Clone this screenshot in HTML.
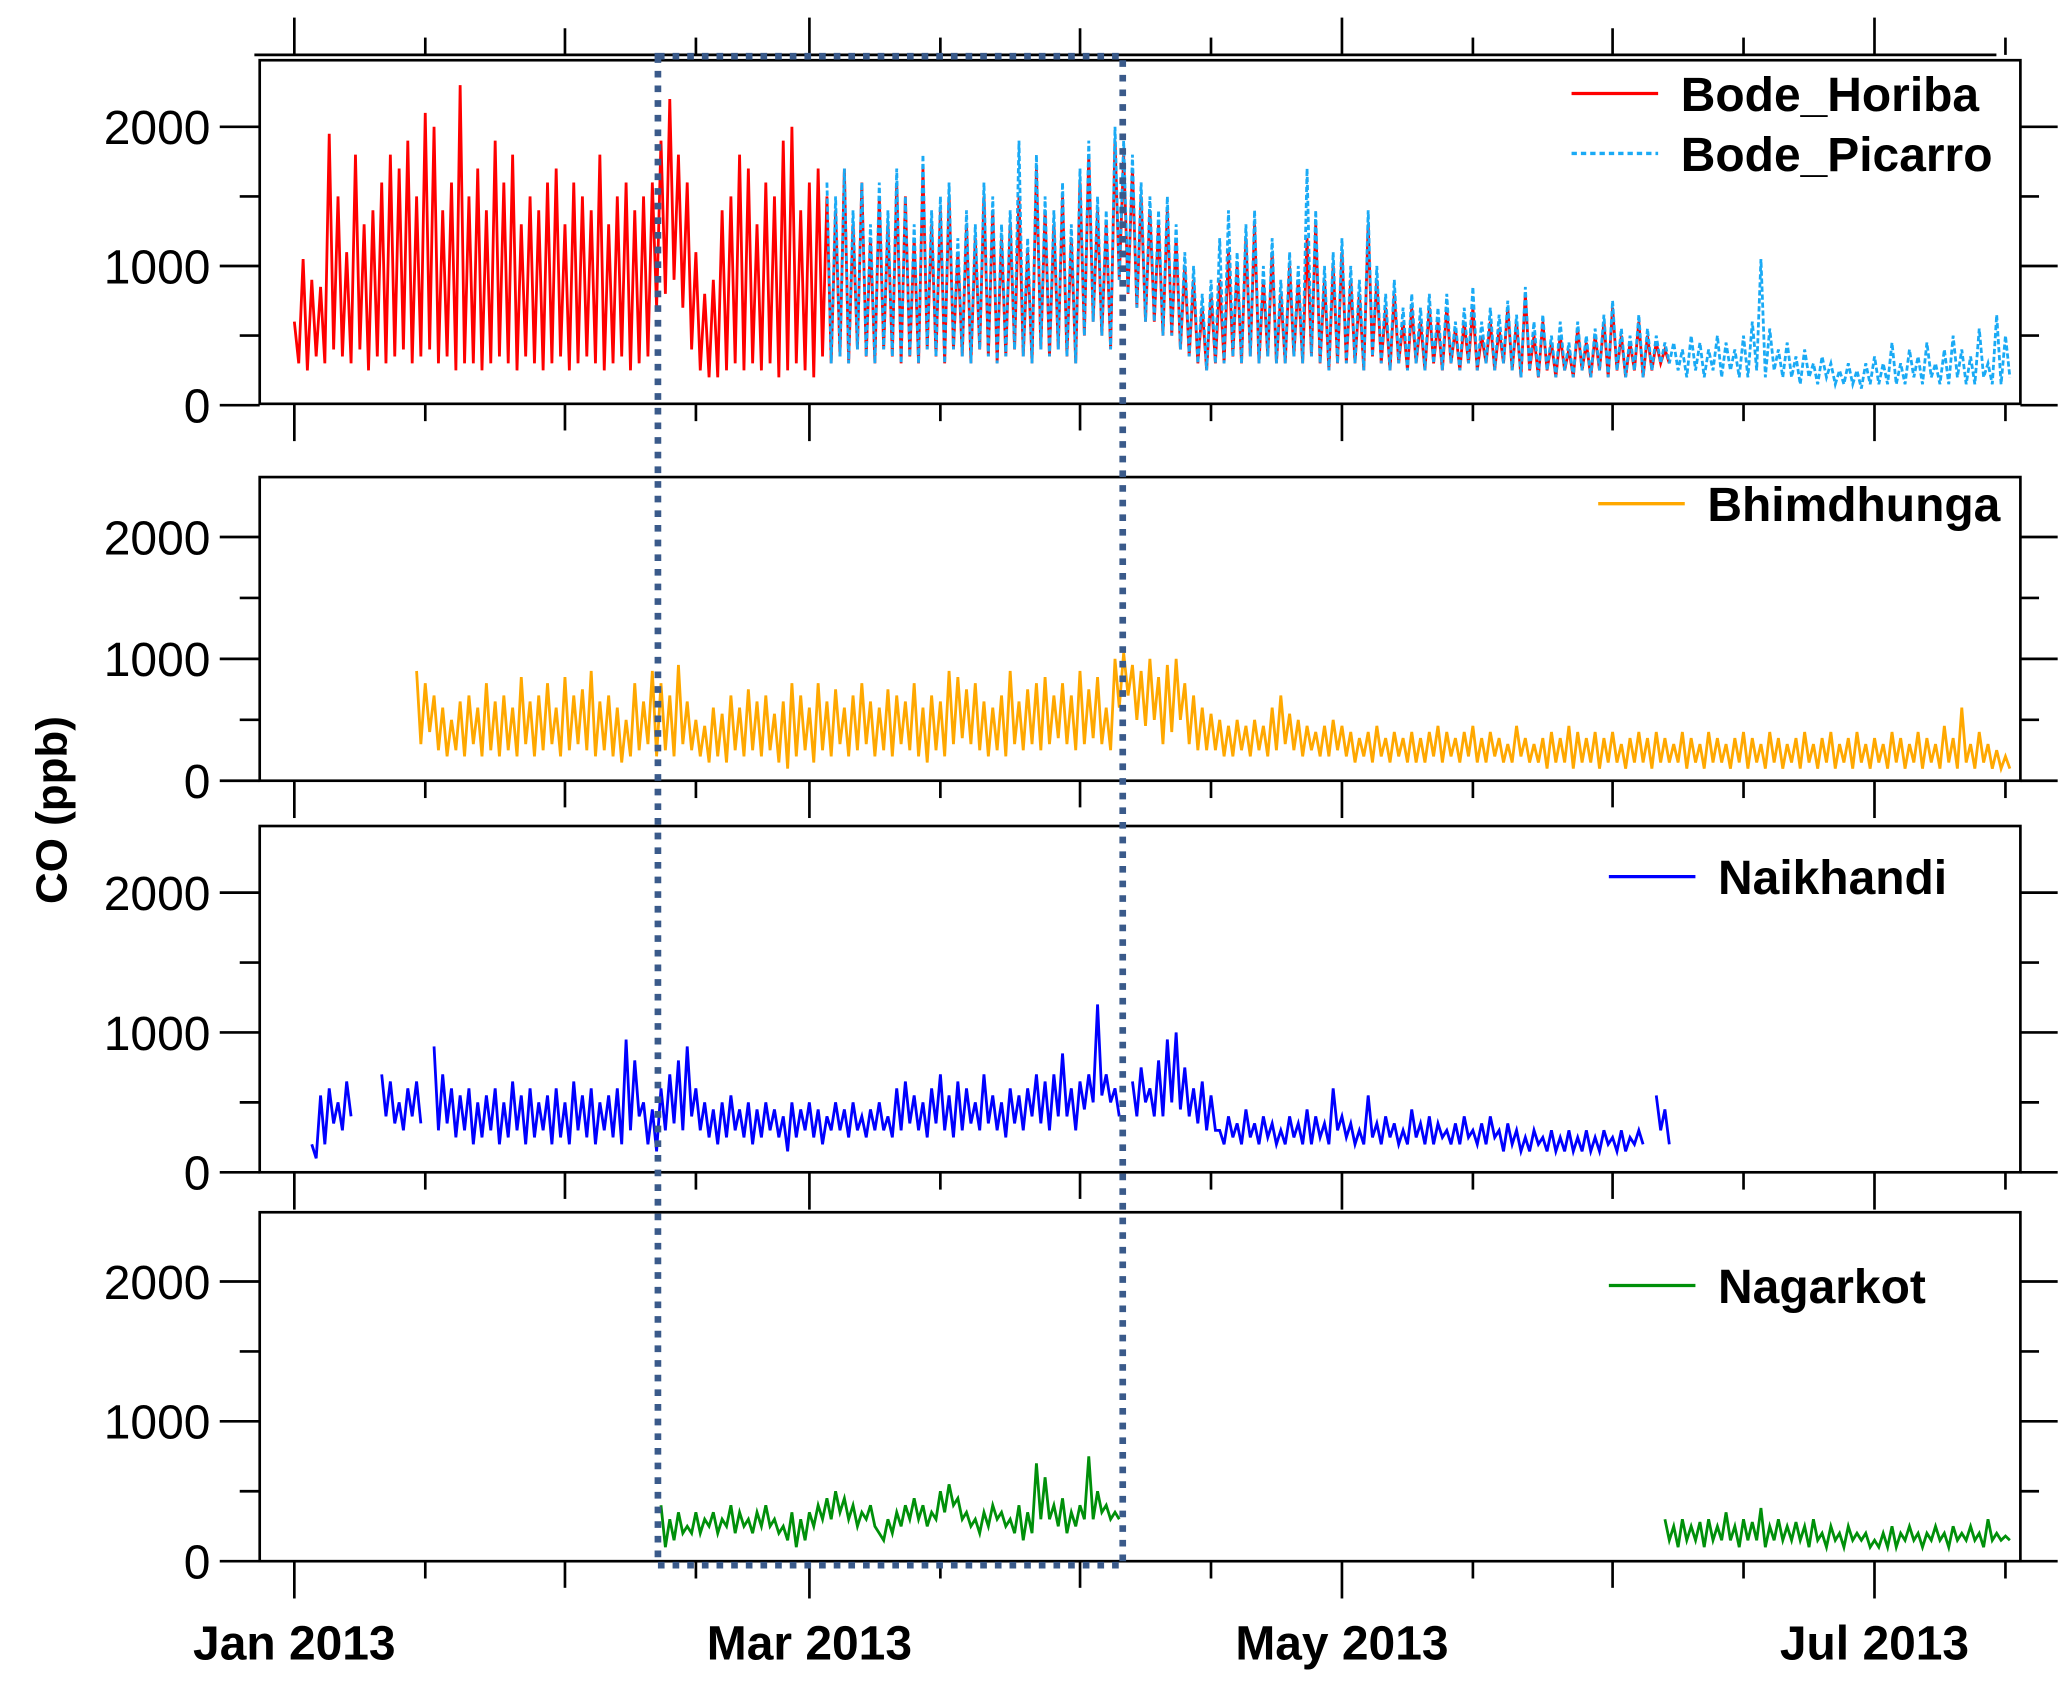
<!DOCTYPE html>
<html><head><meta charset="utf-8"><style>
html,body{margin:0;padding:0;background:#fff;}
svg{display:block;}
text{font-family:"Liberation Sans",Arial,sans-serif;}
</style></head><body>
<svg id="chart" width="2067" height="1684" viewBox="0 0 1552 1264" xmlns="http://www.w3.org/2000/svg">
<g id="axes"></g>
<g id="series"></g>
<rect x="494" y="42" width="349" height="1133" fill="none" stroke="#3a5a8a" stroke-width="5" stroke-dasharray="5,6"/>
<g id="legends"></g>
<text x="50" y="608" transform="rotate(-90 50 608)" text-anchor="middle" font-size="33" font-weight="bold">CO (ppb)</text>
</svg>
<script>
// x-axis (day index from Jan 1 2013)
const xTickLabels = ["Jan 2013","Mar 2013","May 2013","Jul 2013"];
const xTickDays = [0,59,120,181];
const monthStartDays = [0,31,59,90,120,151,181];
const midMonthDays = [15,46,74,105,135,166,196];
const yTickLabels = ["0","1000","2000"];
const yTickValues = [0,1000,2000];
const yMinorValues = [500,1500];

// series: pairs (daily peak, trough), step 0.5 day, starting at given day
const horibaStart = 0;
const horibaValues = [600,300,1050,250,900,350,850,300,1950,400,1500,350,1100,300,1800,400,1300,250,1400,350,
1600,300,1800,350,1700,400,1900,300,1500,350,2100,400,2000,300,1400,350,1600,250,2300,300,
1500,300,1700,250,1400,300,1900,350,1600,300,1800,250,1300,350,1500,300,1400,250,1600,300,
1700,350,1300,250,1600,300,1500,350,1400,300,1800,250,1300,300,1500,350,1600,250,1400,300,
1500,350,1600,700,1900,800,2200,900,1800,700,1600,400,1100,250,800,200,900,200,1400,250,
1500,300,1800,250,1700,300,1300,250,1600,300,1500,200,1900,250,2000,300,1400,250,1600,200,
1700,350,1500,300,1400,350,1700,300,1300,400,1600,350,1200,300,1500,400,1300,350,1600,300,
1500,350,1200,300,1700,400,1300,350,1400,300,1500,400,1100,350,1300,300,1200,400,1500,350,
1400,300,1200,350,1300,400,1500,350,1100,300,1700,400,1400,350,1300,400,1500,350,1200,300,
1600,500,1800,600,1400,500,1300,400,1900,900,1800,800,1700,700,1500,600,1400,600,1300,500,
1400,500,1200,400,1000,350,900,300,700,250,800,300,900,300,1100,350,1000,300,1200,350,
1300,300,900,350,1100,300,800,300,1000,350,900,300,1200,350,1300,300,900,250,1000,300,
1100,300,900,300,800,250,1300,350,900,300,700,250,800,300,600,250,700,300,600,250,
700,300,600,250,700,300,550,250,600,300,700,250,500,300,600,250,550,300,700,250,
600,200,800,250,500,200,600,250,450,200,500,250,400,200,550,250,450,200,500,250,
600,200,700,250,500,200,450,250,600,200,500,250,450,300,400,300];
const picarroStart = 61;
const picarroValues = [1600,300,1500,350,1700,300,1400,400,1600,350,1300,300,1600,400,1400,350,1700,300,1500,350,
1300,300,1800,400,1400,350,1500,300,1600,400,1200,350,1400,300,1300,400,1600,350,1500,300,
1300,350,1400,400,1900,350,1200,300,1800,400,1500,350,1400,400,1600,350,1300,300,1700,500,
1900,600,1500,500,1400,400,2000,900,1900,800,1800,700,1600,600,1500,600,1400,500,1500,500,
1300,400,1100,350,1000,300,800,250,900,300,1200,300,1400,350,1100,300,1300,350,1400,300,
1000,350,1200,300,900,300,1100,350,1000,300,1700,350,1400,300,1000,250,1100,300,1200,300,
1000,300,900,250,1400,350,1000,300,800,250,900,300,700,250,800,300,700,250,800,300,
700,250,800,300,600,250,700,300,850,250,600,300,700,250,650,300,750,250,650,200,
850,250,600,200,650,250,500,200,600,250,450,200,600,250,500,200,550,250,650,200,
750,250,550,200,500,250,650,200,550,250,500,300,450,300,450,250,400,200,500,250,
450,200,400,250,500,200,450,250,400,200,500,200,600,250,1050,200,550,250,400,200,
450,200,350,150,400,200,300,150,350,200,300,150,250,150,300,150,250,120,300,150,
350,150,300,150,450,150,300,150,400,200,350,150,450,200,300,150,400,150,500,200,
400,150,350,150,550,200,300,150,650,150,500,200];
const bhimStart = 14;
const bhimValues = [900,300,800,400,700,250,600,200,500,250,650,200,700,300,600,200,800,250,650,200,
700,250,600,200,850,300,650,200,700,250,800,300,600,200,850,250,700,300,750,250,
900,200,650,250,700,200,600,150,500,200,800,250,650,300,900,200,800,250,700,200,
950,300,650,250,500,200,450,150,600,200,550,150,700,250,600,200,750,250,650,200,
700,250,550,150,650,100,800,200,700,250,600,150,800,250,650,200,750,300,600,200,
700,250,800,300,650,200,600,250,750,200,700,300,650,250,800,200,600,150,700,250,
650,200,900,300,850,350,750,300,800,250,650,200,600,250,700,200,900,300,650,250,
750,300,800,250,850,300,700,350,800,300,700,250,900,300,750,350,850,300,600,250,
1000,600,1050,700,950,500,900,450,1000,500,850,300,950,400,1000,500,800,300,700,250,
600,250,550,250,500,200,450,200,500,250,450,200,500,250,450,200,600,250,700,300,
550,250,500,200,450,250,400,200,450,200,500,250,450,200,400,150,350,200,400,150,
450,200,350,150,400,200,350,150,400,150,350,150,400,200,450,150,400,200,350,150,
400,200,450,150,350,150,400,200,350,150,300,150,450,200,350,150,300,150,350,100,
400,150,350,150,450,100,400,150,350,150,400,100,350,150,400,150,300,100,350,150,
400,150,350,100,400,150,350,150,300,150,400,100,350,150,300,100,400,150,350,150,
300,100,350,150,400,100,350,150,300,100,400,150,350,100,300,150,350,100,400,150,
300,100,350,150,400,100,300,150,350,100,400,150,300,100,350,150,300,100,400,150,
350,100,300,150,400,100,350,150,300,100,450,150,350,100,600,150,300,100,400,150,300,100,250,100,200,100];
const naikStart = 2;
const naikValues = [200,100,550,200,600,350,500,300,650,400,
null,null,null,null,null,null,
700,400,650,350,500,300,600,400,650,350,
null,null,
900,300,700,350,600,250,550,300,600,200,500,250,550,300,600,200,500,250,650,300,
550,200,600,250,500,300,550,200,600,250,500,200,650,300,550,250,600,200,500,300,
550,250,600,200,950,300,800,400,500,200,450,150,600,300,700,350,800,300,900,400,
600,300,500,250,450,200,500,250,550,300,450,250,500,200,450,250,500,300,450,250,
400,150,500,250,450,300,500,250,450,200,400,300,500,300,450,250,500,300,400,250,
450,300,500,300,400,250,600,300,650,350,550,300,500,250,600,350,700,300,550,250,
650,300,600,350,500,300,700,350,550,300,500,250,600,350,550,300,600,400,700,350,
650,300,700,400,850,400,600,300,650,450,700,500,1200,550,700,500,600,400,null,null,
650,400,750,500,600,400,800,400,950,500,1000,450,750,400,600,350,650,300,550,300,
300,200,400,250,350,200,450,250,350,200,400,250,350,200,300,200,400,250,350,200,
450,200,400,250,350,200,600,300,400,250,350,200,300,200,550,250,350,200,400,250,
350,200,300,200,450,250,350,200,400,200,350,250,300,200,350,200,400,250,300,200,
350,200,400,250,300,150,350,200,300,150,250,150,300,200,250,150,300,150,250,150,
300,150,250,150,300,150,250,150,300,200,250,150,300,150,250,200,300,200,
null,null,
550,300,450,200];
const nagarStartA = 42;
const nagarValuesA = [400,100,300,150,350,200,250,200,350,200,300,250,350,200,300,250,400,200,350,250,
300,200,350,250,400,250,300,200,250,150,350,100,300,150,350,250,400,300,450,300,
500,350,450,300,400,250,350,300,400,250,200,150,300,200,350,250,400,300,450,300,
400,250,350,300,500,350,550,400,450,300,350,250,300,200,350,250,400,300,350,250,
300,200,400,150,350,200,700,300,600,300,400,250,450,200,350,250,400,300,750,300,500,350,400,300,350,300];
const nagarStartB = 157;
const nagarValuesB = [300,150,250,100,300,150,250,150,280,100,300,150,250,150,350,150,250,100,300,150,
280,150,380,100,250,150,300,150,250,150,280,150,250,100,300,150,200,100,250,150,
200,100,250,150,200,150,200,100,150,100,200,100,250,100,200,150,250,150,200,100,
200,150,250,150,200,100,250,150,200,150,250,150,200,100,300,150,200,150,180,150];

const NS = "http://www.w3.org/2000/svg";
const X0 = 195, X1 = 1517;
function xScale(day){ return 221 + day * 6.555; }
const panels = [
  {name:"bode", top:45, bottom:303, zero:304, per:104.5, topAxis:true},
  {name:"bhimdhunga", top:358, bottom:586, zero:586, per:91.5},
  {name:"naikhandi", top:620, bottom:880, zero:880, per:105},
  {name:"nagarkot", top:910, bottom:1172, zero:1172, per:105}
];
function mk(tag, attrs, parent){ const e=document.createElementNS(NS,tag); for(const k in attrs) e.setAttribute(k,attrs[k]); parent.appendChild(e); return e; }
const axes = document.getElementById('axes');
const seriesG = document.getElementById('series');
const legends = document.getElementById('legends');

panels.forEach((p,pi)=>{
  const yS = v => p.zero - v * p.per / 1000;
  const g = mk('g',{},axes);
  
  
  const frame = mk('rect',{x:X0,y:p.top,width:X1-X0,height:p.bottom-p.top,fill:'none',stroke:'#000','stroke-width':2},g);
  
  
  yTickValues.forEach((v,i)=>{
    const y=yS(v);
    mk('line',{x1:X0-30,x2:X0,y1:y,y2:y,stroke:'#000','stroke-width':2},g);
    mk('line',{x1:X1,x2:X1+28,y1:y,y2:y,stroke:'#000','stroke-width':2},g);
    const t = mk('text',{x:158,y:y+13,'text-anchor':'end','font-size':36},g);
    t.textContent = yTickLabels[i];
    
    
  });
  yMinorValues.forEach(v=>{
    const y=yS(v);
    mk('line',{x1:X0-15,x2:X0,y1:y,y2:y,stroke:'#000','stroke-width':2},g);
    mk('line',{x1:X1,x2:X1+14,y1:y,y2:y,stroke:'#000','stroke-width':2},g);
  });
  const drawX = (base, dir) => {
    monthStartDays.forEach(d=>{
      const major = xTickDays.includes(d);
      const len = major ? 28 : 20;
      mk('line',{x1:xScale(d),x2:xScale(d),y1:base,y2:base+dir*len,stroke:'#000','stroke-width':2},g);
    });
    midMonthDays.forEach(d=>{
      mk('line',{x1:xScale(d),x2:xScale(d),y1:base,y2:base+dir*13,stroke:'#000','stroke-width':2},g);
    });
  };
  drawX(p.bottom, 1);
  if(p.topAxis){
    mk('line',{x1:X0-4,x2:X1-18,y1:41,y2:41,stroke:'#000','stroke-width':2},g);
    drawX(41, -1);
  }
});

xTickLabels.forEach((lab,i)=>{
  const t = mk('text',{x:xScale(xTickDays[i]),y:1246,'text-anchor':'middle','font-size':36,'font-weight':'bold'},axes);
  t.textContent = lab;
  
  
});

function drawSeries(values, startDay, panelIdx, color, name, dash){
  const p = panels[panelIdx];
  const yS = v => p.zero - v * p.per / 1000;
  let d = "", pen = false;
  values.forEach((v,i)=>{
    if(v===null){ pen=false; return; }
    const x = xScale(startDay + i*0.5).toFixed(1), y = yS(v).toFixed(1);
    d += (pen ? "L" : "M") + x + " " + y;
    pen = true;
  });
  const path = mk('path',{d:d,fill:'none',stroke:color,'stroke-width':2.1,'stroke-linejoin':'miter'},seriesG);
  if(dash) path.setAttribute('stroke-dasharray', dash);
  
  
}
drawSeries(horibaValues, horibaStart, 0, '#ff0000', 'bode-horiba-line');
drawSeries(picarroValues, picarroStart, 0, '#1aaaf5', 'bode-picarro-line', '4,2');
drawSeries(bhimValues, bhimStart, 1, '#ffa800', 'bhimdhunga-line');
drawSeries(naikValues, naikStart, 2, '#0000ff', 'naikhandi-line');
drawSeries(nagarValuesA, nagarStartA, 3, '#00900a', 'nagarkot-line-winter');
drawSeries(nagarValuesB, nagarStartB, 3, '#00900a', 'nagarkot-line-summer');

const legendItems = [
  {x1:1180,x2:1245,y:70,tx:1262,label:'Bode_Horiba',color:'#ff0000',dash:null,name:'legend-bode-horiba'},
  {x1:1180,x2:1245,y:115,tx:1262,label:'Bode_Picarro',color:'#1aaaf5',dash:'4,3',name:'legend-bode-picarro'},
  {x1:1200,x2:1265,y:378,tx:1282,label:'Bhimdhunga',color:'#ffa800',dash:null,name:'legend-bhimdhunga'},
  {x1:1208,x2:1273,y:658,tx:1290,label:'Naikhandi',color:'#0000ff',dash:null,name:'legend-naikhandi'},
  {x1:1208,x2:1273,y:965,tx:1290,label:'Nagarkot',color:'#00900a',dash:null,name:'legend-nagarkot'}
];
legendItems.forEach(l=>{
  const g = mk('g',{},legends);
  
  
  const ln = mk('line',{x1:l.x1,x2:l.x2,y1:l.y,y2:l.y,stroke:l.color,'stroke-width':2.5},g);
  if(l.dash) ln.setAttribute('stroke-dasharray', l.dash);
  const t = mk('text',{x:l.tx,y:l.y+13,'font-size':36,'font-weight':'bold'},g);
  t.textContent = l.label;
});
</script>
</body></html>
